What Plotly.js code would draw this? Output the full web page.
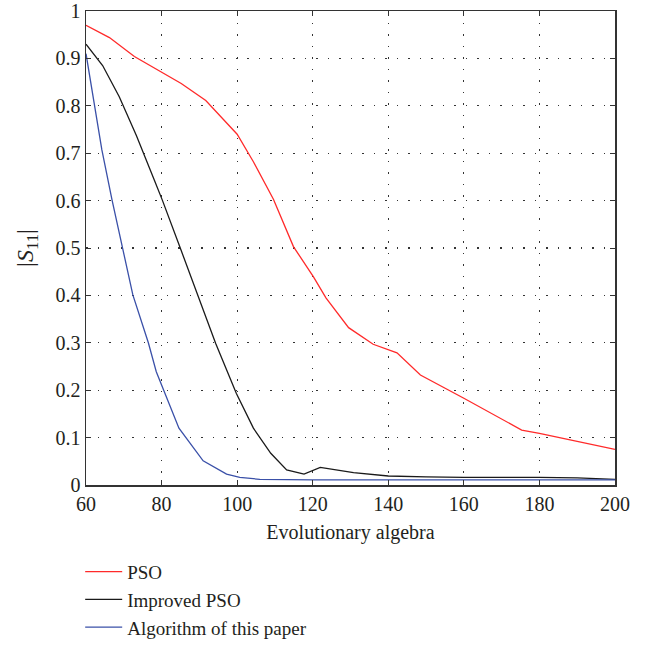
<!DOCTYPE html>
<html>
<head>
<meta charset="utf-8">
<script src="https://cdn.plot.ly/plotly-3.0.1.min.js"></script>
<style>html,body{margin:0;padding:0;background:#fff;}</style>
</head>
<body>
<div id="chart" style="width:646px;height:652px;"></div>
<script>
var psoX = [60, 66.2, 72.8, 79.5, 85.2, 91.7, 97.6, 100, 104.3, 109.6, 114.9, 120.2, 123.5, 129.5, 136, 142.3, 148.5, 160, 175.3, 180, 200];
var psoY = [0.970, 0.944, 0.904, 0.874, 0.847, 0.811, 0.759, 0.74, 0.682, 0.603, 0.503, 0.439, 0.395, 0.332, 0.297, 0.279, 0.232, 0.183, 0.116, 0.109, 0.075];

var impX = [60, 64.4, 68.8, 73.3, 78.1, 80.2, 84.9, 89.5, 94.3, 99.8, 104.3, 108.9, 113.1, 117.7, 122, 130.8, 140, 150, 160, 180, 190, 200];
var impY = [0.930, 0.885, 0.819, 0.738, 0.643, 0.601, 0.501, 0.401, 0.299, 0.193, 0.120, 0.067, 0.032, 0.023, 0.037, 0.026, 0.019, 0.017, 0.016, 0.016, 0.015, 0.012];

var algX = [60, 64.2, 66.9, 69.6, 72.4, 76.5, 78.6, 84.6, 91, 97.2, 100.7, 106, 120, 160, 200];
var algY = [0.910, 0.707, 0.601, 0.501, 0.401, 0.300, 0.239, 0.120, 0.051, 0.023, 0.016, 0.012, 0.011, 0.011, 0.011];

var seriesNames = ["PSO", "Improved PSO", "Algorithm of this paper"];
var xTicks = [60, 80, 100, 120, 140, 160, 180, 200];
var yTicks = [0, 0.1, 0.2, 0.3, 0.4, 0.5, 0.6, 0.7, 0.8, 0.9, 1];
var yTickText = ["0", "0.1", "0.2", "0.3", "0.4", "0.5", "0.6", "0.7", "0.8", "0.9", "1"];

var serif = "Liberation Serif, DejaVu Serif, serif";
var txt = "#231f20";

var traces = [
  {x: psoX, y: psoY, name: seriesNames[0], mode: "lines", line: {color: "#ff2a2a", width: 1.3}},
  {x: impX, y: impY, name: seriesNames[1], mode: "lines", line: {color: "#1a1a1a", width: 1.3}},
  {x: algX, y: algY, name: seriesNames[2], mode: "lines", line: {color: "#3a50a8", width: 1.3}}
];

var axisCommon = {
  showline: true, linecolor: "#333", linewidth: 1.5, mirror: "ticks",
  ticks: "inside", ticklen: 5, tickcolor: "#333", tickwidth: 1,
  showgrid: true, gridcolor: "#333", griddash: "1.5px,10px", gridwidth: 1.2,
  zeroline: false, automargin: false,
  tickfont: {family: serif, size: 20, color: txt}
};

// paper: top margin 11, bottom margin 0 -> paper height 641; plot spans 11..485
var layout = {
  width: 646, height: 652,
  margin: {l: 86, r: 31, t: 11, b: 0},
  paper_bgcolor: "#fff", plot_bgcolor: "#fff",
  showlegend: true,
  xaxis: Object.assign({}, axisCommon, {
    range: [60, 200], tickvals: xTicks, ticktext: xTicks.map(String),
    title: {text: "Evolutionary algebra", font: {family: serif, size: 20, color: txt}, standoff: 11}
  }),
  yaxis: Object.assign({}, axisCommon, {
    domain: [0.2605, 1],
    range: [0, 1], tickvals: yTicks, ticktext: yTickText,
    title: {text: "|<i>S</i><sub>11</sub>|", font: {family: serif, size: 24, color: txt}, standoff: 15}
  }),
  legend: {
    x: -0.011, y: 0.008, xanchor: "left", yanchor: "bottom",
    font: {family: serif, size: 19, color: txt},
    bgcolor: "rgba(0,0,0,0)", itemwidth: 37, tracegroupgap: 0
  }
};

Plotly.newPlot("chart", traces, layout, {staticPlot: true, displayModeBar: false});
</script>
</body>
</html>
